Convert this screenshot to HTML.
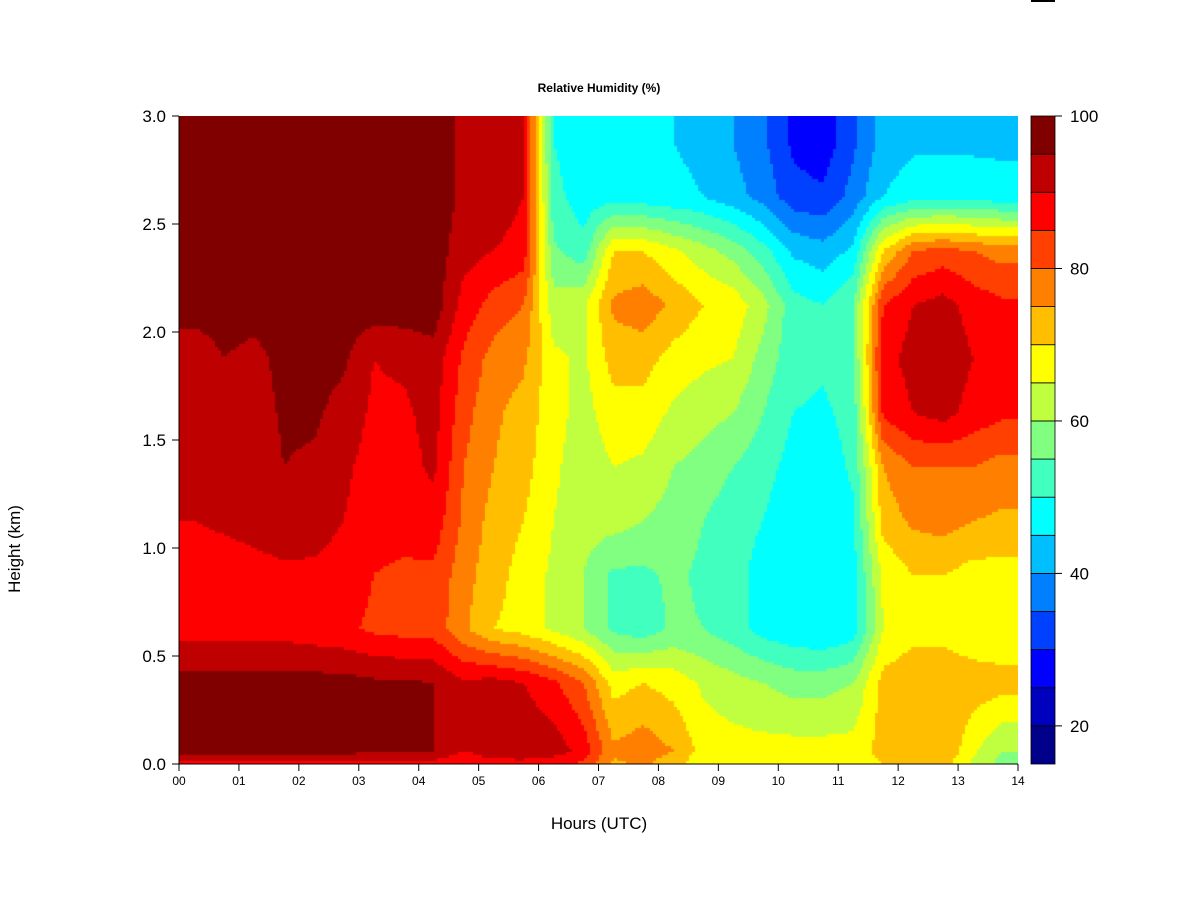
<!DOCTYPE html>
<html><head><meta charset="utf-8"><style>
body{margin:0;background:#fff;width:1200px;height:900px;overflow:hidden;font-family:"Liberation Sans",Arial,sans-serif}
#wrap{position:relative;width:1200px;height:900px}
canvas{position:absolute;left:179px;top:116px}
svg{position:absolute;left:0;top:0}
</style></head><body>
<div id="wrap">
<canvas id="cv" width="839" height="648"></canvas>
<svg id="sv" width="1200" height="900"></svg>
</div>
<script>
// heights (km) of each row of data
const heights=[0,0.06,0.375,0.625,0.875,1.125,1.375,1.625,1.875,2.125,2.375,2.625,2.875,3.0];
// column centre times (hours)
const times=[];for(let i=0;i<28;i++)times.push(0.25+i*0.5);
// relative humidity per column, bottom to top
const rh=[
[97,97,88,87,90,90,91,91,98,98,98,98],
[97,97,88,87,91,90,90,95,98,98,98,98],
[97,97,88,88,92,91,92,93,98,98,98,98],
[97,97,88,89,93,95,96,97,98,98,98,98],
[97,97,87,89,92,94,96,97,98,98,98,98],
[97,97,86,88,90,91,93,96,98,98,98,98],
[96,96,84,85,87,88,89,90,98,98,98,98],
[96,96,83,84,87,88,89,91,98,98,98,98],
[95,95,83,84,88,91,92,93,98,98,98,98],
[90,91,76,77,79,80,82,84,88,92,94,94],
[93,92,70,72,73,75,76,78,83,90,93,92],
[94,90,68,68,70,72,73,76,80,88,90,90],
[93,86,64,64,65,66,67,66,62,56,52,50],
[88,80,60,60,62,62,63,64,64,52,47,46],
[76,68,54,54,62,65,68,72,76,70,48,47],
[78,70,52,54,60,64,68,72,78,70,47,46],
[75,68,56,56,58,60,64,68,74,66,46,45],
[68,64,55,54,55,58,62,66,70,62,45,44],
[67,62,52,52,52,55,60,65,68,58,42,40],
[67,60,48,48,50,52,55,58,62,52,38,36],
[67,58,46,45,46,48,50,52,52,44,32,29],
[67,58,45,45,46,47,49,51,50,42,31,27],
[67,60,47,48,49,51,52,54,55,46,37,34],
[72,72,65,66,72,75,86,88,85,70,45,42],
[75,74,68,70,76,80,90,92,90,80,48,44],
[75,74,68,70,77,80,92,94,92,82,48,44],
[66,73,66,68,75,80,88,90,88,80,48,44],
[60,72,66,68,74,78,86,88,86,78,47,44]];
// surface (0 km) values per column
const surface=[88,88,88,88,88,88,88,88,88,86,88,88,86,84,74,76,72,66,66,66,66,66,66,70,72,72,64,58];
const levels=[15,20,25,30,35,40,45,50,55,60,65,70,75,80,85,90,95,100];
const colors=["#00008B","#0000BF","#0000FF","#0040FF","#0080FF","#00BFFF","#00FFFF","#40FFBF","#80FF80","#BFFF40","#FFFF00","#FFBF00","#FF8000","#FF4000","#FF0000","#BF0000","#800000"];
const yTicks=[0,0.5,1,1.5,2,2.5,3];
const xTicks=[0,1,2,3,4,5,6,7,8,9,10,11,12,13,14];
const cbTicks=[20,40,60,80,100];

const X0=179,X1=1018,Y0=764,Y1=116;
const xs=t=>X0+(t/14)*(X1-X0);
const ys=h=>Y0-(h/3)*(Y0-Y1);
const cbY=v=>764-(v-15)/85*648;
function colorOf(v){for(let i=0;i<colors.length;i++){if(v<levels[i+1])return colors[i];}return colors[colors.length-1];}
const grid=rh.map((c,i)=>[surface[i]].concat(c).concat([c[c.length-1]]));
function interp(t,h){
  let ci=(t-times[0])/0.5;ci=Math.max(0,Math.min(times.length-1.0001,ci));
  const i0=Math.floor(ci),ft=ci-i0;
  let j0=0;while(j0<heights.length-2&&h>heights[j0+1])j0++;
  const fh=Math.max(0,Math.min(1,(h-heights[j0])/(heights[j0+1]-heights[j0])));
  const a=grid[i0][j0],b=grid[i0+1][j0],c=grid[i0][j0+1],d=grid[i0+1][j0+1];
  return (a*(1-ft)+b*ft)*(1-fh)+(c*(1-ft)+d*ft)*fh;
}
const cv=document.getElementById('cv'),ctx=cv.getContext('2d');
const step=3;
for(let px=0;px<839;px+=step){
  for(let py=0;py<648;py+=step){
    const t=(px+step/2)/839*14, h=(648-py-step/2)/648*3;
    ctx.fillStyle=colorOf(interp(t,h));
    ctx.fillRect(px,py,step,step);
  }
}
const NS="http://www.w3.org/2000/svg",sv=document.getElementById('sv');
function el(tag,attrs,txt){const e=document.createElementNS(NS,tag);for(const k in attrs)e.setAttribute(k,attrs[k]);if(txt!==undefined)e.textContent=txt;sv.appendChild(e);return e;}
let e;
e=el('line',{x1:X0,y1:Y1,x2:X0,y2:Y0,stroke:'#000','stroke-width':1});


e=el('line',{x1:X0,y1:Y0,x2:X1,y2:Y0,stroke:'#000','stroke-width':1});


yTicks.forEach(v=>{
  el('line',{x1:X0-7,y1:ys(v),x2:X0,y2:ys(v),stroke:'#000'});
  e=el('text',{x:X0-13,y:ys(v)+6,'text-anchor':'end','font-size':17},v.toFixed(1));
  
  
});
xTicks.forEach(v=>{
  el('line',{x1:xs(v),y1:Y0,x2:xs(v),y2:Y0+7,stroke:'#000'});
  e=el('text',{x:xs(v),y:Y0+21,'text-anchor':'middle','font-size':12},String(v).padStart(2,'0'));
  
  
});
e=el('text',{x:599,y:92,'text-anchor':'middle','font-size':12,'font-weight':'bold'},'Relative Humidity (%)');


e=el('text',{x:599,y:829,'text-anchor':'middle','font-size':17},'Hours (UTC)');


e=el('text',{x:20,y:549,'text-anchor':'middle','font-size':17,transform:'rotate(-90 20 549)'},'Height (km)');


for(let i=0;i<colors.length;i++){
  e=el('rect',{x:1031,y:cbY(levels[i+1]),width:24,height:cbY(levels[i])-cbY(levels[i+1]),fill:colors[i],stroke:'#000','stroke-width':0.8});
  
  
}
cbTicks.forEach(v=>{
  el('line',{x1:1055,y1:cbY(v),x2:1062,y2:cbY(v),stroke:'#000'});
  e=el('text',{x:1070,y:cbY(v)+6,'font-size':17},String(v));
  
  
});
el('line',{x1:1031,y1:1,x2:1055,y2:1,stroke:'#000','stroke-width':2});
</script>
</body></html>
